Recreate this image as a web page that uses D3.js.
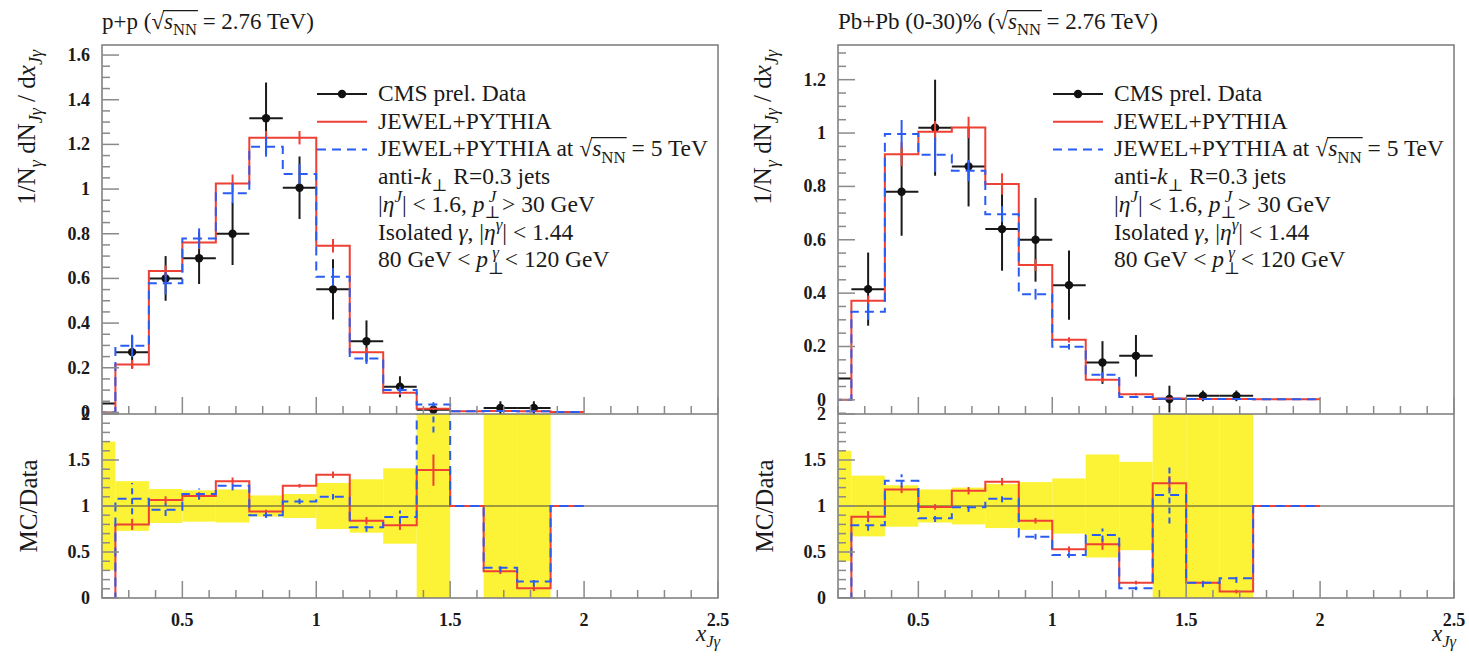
<!DOCTYPE html>
<html>
<head>
<meta charset="utf-8">
<script src="https://cdn.jsdelivr.net/npm/d3@7"></script>
<style>
body { margin: 0; background: white; }
text { font-family: "Liberation Serif", "DejaVu Serif", serif; fill: #1a1a1a; }
</style>
</head>
<body>
<div id="container"></div>
<script>

// bins of x_Jgamma (first one is only partly inside the frame)
const binEdges = [0.125, 0.25, 0.375, 0.5, 0.625, 0.75, 0.875, 1.0, 1.125, 1.25, 1.375, 1.5, 1.625, 1.75, 1.875, 2.0];

// p+p panel
const ppData      = [0.04, 0.27, 0.60, 0.69, 0.80, 1.317, 1.006, 0.551, 0.319, 0.115, 0.012, null, 0.02, 0.02, null];
const ppDataErr   = [0.028, 0.073, 0.10, 0.115, 0.14, 0.16, 0.14, 0.135, 0.093, 0.047, 0.02, null, 0.03, 0.03, null];
const ppBand      = [0.70, 0.27, 0.185, 0.17, 0.18, 0.115, 0.13, 0.25, 0.29, 0.41, 9, null, 9, 9, null];
const ppRed       = [0, 0.215, 0.633, 0.761, 1.025, 1.23, 1.23, 0.746, 0.269, 0.088, 0.016, 0.005, 0.006, 0.005, 0.002];
const ppRedErr    = [0, 0.02, 0.025, 0.03, 0.04, 0.03, 0.03, 0.03, 0.02, 0.01, 0.005, 0.002, 0.002, 0.002, 0.001];
const ppBlue      = [0, 0.298, 0.578, 0.779, 0.981, 1.19, 1.067, 0.607, 0.242, 0.10, 0.036, 0.005, 0.006, 0.005, 0.002];
const ppBlueErr   = [0, 0.05, 0.05, 0.045, 0.045, 0.045, 0.045, 0.04, 0.025, 0.015, 0.01, 0.002, 0.002, 0.002, 0.001];
const ppRedRatio  = [0, 0.80, 1.065, 1.11, 1.27, 0.94, 1.22, 1.34, 0.84, 0.79, 1.39, 1, 0.29, 0.105, 1];
const ppRedRErr   = [0, 0.06, 0.04, 0.04, 0.04, 0.02, 0.02, 0.035, 0.04, 0.05, 0.17, 0, 0.03, 0.03, 0];
const ppBlueRatio = [0, 1.08, 0.96, 1.13, 1.22, 0.90, 1.05, 1.10, 0.77, 0.88, 3.0, 1, 0.33, 0.18, 1];
const ppBlueRErr  = [0, 0.17, 0.07, 0.06, 0.05, 0.03, 0.03, 0.03, 0.05, 0.07, 1.2, 0, 0.05, 0.05, 0];

// Pb+Pb (0-30)% panel
const pbData      = [0.08, 0.415, 0.78, 1.02, 0.875, 0.64, 0.60, 0.43, 0.14, 0.165, 0.003, 0.015, 0.015, null, null];
const pbDataErr   = [0.048, 0.137, 0.165, 0.18, 0.15, 0.156, 0.157, 0.13, 0.08, 0.078, 0.05, 0.02, 0.02, null, null];
const pbBand      = [0.60, 0.33, 0.225, 0.18, 0.20, 0.24, 0.26, 0.30, 0.56, 0.48, 9, 9, 9, null, null];
const pbRed       = [0, 0.371, 0.921, 1.005, 1.021, 0.809, 0.505, 0.225, 0.075, 0.021, 0.005, 0.003, 0.003, 0.002, 0.002];
const pbRedErr    = [0, 0.02, 0.045, 0.04, 0.04, 0.04, 0.022, 0.01, 0.008, 0.004, 0.002, 0.001, 0.001, 0.001, 0.001];
const pbBlue      = [0, 0.33, 0.996, 0.919, 0.859, 0.696, 0.396, 0.199, 0.094, 0.011, 0.004, 0.003, 0.003, 0.002, 0.002];
const pbBlueErr   = [0, 0.03, 0.053, 0.065, 0.04, 0.03, 0.02, 0.01, 0.01, 0.004, 0.002, 0.001, 0.001, 0.001, 0.001];
const pbRedRatio  = [0, 0.884, 1.18, 0.99, 1.166, 1.264, 0.84, 0.53, 0.584, 0.167, 1.246, 0.167, 0.07, 1, 1];
const pbRedRErr   = [0, 0.06, 0.04, 0.03, 0.04, 0.04, 0.03, 0.03, 0.06, 0.02, 0.08, 0.02, 0.02, 0, 0];
const pbBlueRatio = [0, 0.79, 1.275, 0.866, 0.986, 1.08, 0.667, 0.467, 0.685, 0.105, 1.12, 0.167, 0.214, 1, 1];
const pbBlueRErr  = [0, 0.06, 0.07, 0.04, 0.05, 0.04, 0.03, 0.03, 0.07, 0.02, 0.31, 0.05, 0.05, 0, 0];

// tick labels
const xTicks = [0.5, 1, 1.5, 2, 2.5];
const ppYTicks = [0, 0.2, 0.4, 0.6, 0.8, 1, 1.2, 1.4, 1.6];
const pbYTicks = [0, 0.2, 0.4, 0.6, 0.8, 1, 1.2];
const ratioTicks = [0, 0.5, 1, 1.5, 2];

const RED = "#ee4035";
const BLUE = "#2b5cf2";
const YELLOW = "#fcf236";
const FRAME = "#7a7a7a";
const TICK = "#8a8a8a";

let svg = d3.select("#container").append("svg")
    .attr("width", 1469)
    .attr("height", 656)
let defs = svg.append("defs")

// text with italic / sub / sup pieces, overline drawn as a real line
function rich(g, x, y, parts, size) {
    let t = g.append("text").attr("x", x).attr("y", y).style("font-size", size + "px")
    let cur = 0, pos = 0, over = []
    parts.forEach(p => {
        if (typeof p === "string") p = {t: p}
        let off = p.sub ? size * 0.28 : p.sup ? -size * 0.4 : 0
        let ts = t.append("tspan").text(p.t).attr("dy", off - cur)
        if (p.dx) ts.attr("dx", p.dx)
        if (p.i) ts.style("font-style", "italic")
        if (p.sub || p.sup) ts.style("font-size", (size * 0.72) + "px")
        if (p.over) over.push([pos, pos + p.t.length - 1])
        pos += p.t.length
        cur = off
    })
    if (over.length) {
        let n = t.node()
        let x0 = n.getStartPositionOfChar(over[0][0]).x - 1
        let x1 = n.getEndPositionOfChar(over[over.length - 1][1]).x + 1
        g.append("line").attr("x1", x0).attr("x2", x1)
            .attr("y1", y - size * 0.8).attr("y2", y - size * 0.8)
            .attr("stroke", "#1a1a1a").attr("stroke-width", 1.1)
    }
    return t
}

function drawPanel(p) {
    let L = p.left, R = L + 616, T = 45, M = 414, B = 598
    let x = d3.scaleLinear().domain([0.2, 2.5]).range([L, R])
    let y = d3.scaleLinear().domain(p.yDomain).range([M, T])
    let yr = d3.scaleLinear().domain([0, 2]).range([B, M])

    defs.append("clipPath").attr("id", p.id + "-main")
        .append("rect").attr("x", L).attr("y", T).attr("width", R - L).attr("height", M - T)
    defs.append("clipPath").attr("id", p.id + "-ratio")
        .append("rect").attr("x", L).attr("y", M).attr("width", R - L).attr("height", B - M)

    let mid = i => (binEdges[i] + binEdges[i + 1]) / 2
    let step = (vals, sc) => {
        let pts = vals.map((v, i) => [binEdges[i], v])
        pts.push([binEdges[vals.length], vals[vals.length - 1]])
        return d3.line().x(d => x(d[0])).y(d => sc(d[1])).curve(d3.curveStepAfter)(pts)
    }
    let idx = d3.range(binEdges.length - 1)

    // ---- main plot
    let main = svg.append("g").attr("clip-path", "url(#" + p.id + "-main)")

    let dat = idx.filter(i => p.data[i] !== null)
    main.selectAll("line.xerr").data(dat).enter().append("line")
        .attr("x1", i => x(binEdges[i])).attr("x2", i => x(binEdges[i + 1]))
        .attr("y1", i => y(p.data[i])).attr("y2", i => y(p.data[i]))
        .attr("stroke", "#1a1a1a").attr("stroke-width", 2)
    main.selectAll("line.yerr").data(dat).enter().append("line")
        .attr("x1", i => x(mid(i))).attr("x2", i => x(mid(i)))
        .attr("y1", i => y(p.data[i] - p.dataErr[i])).attr("y2", i => y(p.data[i] + p.dataErr[i]))
        .attr("stroke", "#1a1a1a").attr("stroke-width", 2)
    main.selectAll("circle").data(dat).enter().append("circle")
        .attr("cx", i => x(mid(i))).attr("cy", i => y(p.data[i])).attr("r", 4.2)
        .attr("fill", "#111")

    let mcSeries = [
        {vals: p.red, err: p.redErr, rv: p.redRatio, re: p.redRErr, color: RED, dash: null},
        {vals: p.blue, err: p.blueErr, rv: p.blueRatio, re: p.blueRErr, color: BLUE, dash: "9,6"}
    ]
    mcSeries.forEach(s => {
        main.append("path").attr("d", step(s.vals, y))
            .attr("fill", "none").attr("stroke", s.color).attr("stroke-width", 2)
            .attr("stroke-dasharray", s.dash)
        main.selectAll(null).data(idx.filter(i => s.err[i] > 0)).enter().append("line")
            .attr("x1", i => x(mid(i))).attr("x2", i => x(mid(i)))
            .attr("y1", i => y(s.vals[i] - s.err[i])).attr("y2", i => y(s.vals[i] + s.err[i]))
            .attr("stroke", s.color).attr("stroke-width", 2)
    })

    // ---- ratio plot
    let rat = svg.append("g").attr("clip-path", "url(#" + p.id + "-ratio)")
    rat.selectAll("rect").data(idx.filter(i => p.band[i] !== null)).enter().append("rect")
        .attr("x", i => x(binEdges[i]))
        .attr("width", i => x(binEdges[i + 1]) - x(binEdges[i]))
        .attr("y", i => yr(1 + p.band[i]))
        .attr("height", i => yr(Math.max(0, 1 - p.band[i])) - yr(1 + p.band[i]))
        .attr("fill", YELLOW)
    rat.append("line").attr("x1", L).attr("x2", R).attr("y1", yr(1)).attr("y2", yr(1))
        .attr("stroke", "#444").attr("stroke-width", 1)
    mcSeries.forEach(s => {
        rat.append("path").attr("d", step(s.rv, yr))
            .attr("fill", "none").attr("stroke", s.color).attr("stroke-width", 2)
            .attr("stroke-dasharray", s.dash)
        rat.selectAll(null).data(idx.filter(i => s.re[i] > 0)).enter().append("line")
            .attr("x1", i => x(mid(i))).attr("x2", i => x(mid(i)))
            .attr("y1", i => yr(s.rv[i] - s.re[i])).attr("y2", i => yr(s.rv[i] + s.re[i]))
            .attr("stroke", s.color).attr("stroke-width", 2)
            .attr("stroke-dasharray", s.dash ? "6,4" : null)
    })

    // ---- frames and ticks
    let ax = svg.append("g")
    ax.append("rect").attr("x", L).attr("y", T).attr("width", R - L).attr("height", B - T)
        .attr("fill", "none").attr("stroke", FRAME).attr("stroke-width", 1.5)
    ax.append("line").attr("x1", L).attr("x2", R).attr("y1", M).attr("y2", M)
        .attr("stroke", FRAME).attr("stroke-width", 1.5)

    let xMinor = d3.range(2, 26).map(v => v / 10)
    ;[M, B].forEach(base => {
        ax.selectAll(null).data(xMinor).enter().append("line")
            .attr("x1", d => x(d)).attr("x2", d => x(d))
            .attr("y1", base).attr("y2", d => base - (Math.abs(d * 2 - Math.round(d * 2)) < 1e-6 ? 17 : 8))
            .attr("stroke", TICK).attr("stroke-width", 1.5)
    })
    ax.selectAll(null).data(xTicks).enter().append("text")
        .attr("x", d => x(d)).attr("y", 626)
        .attr("text-anchor", "middle").style("font-size", "18px").style("font-weight", "bold")
        .text(d => d)

    let yMinor = d3.range(Math.ceil(p.yDomain[0] * 20), Math.floor(p.yDomain[1] * 20) + 1).map(v => v / 20)
    ax.selectAll(null).data(yMinor).enter().append("line")
        .attr("x1", L).attr("x2", d => L + (Math.abs(d * 5 - Math.round(d * 5)) < 1e-6 ? 17 : 8))
        .attr("y1", d => y(d)).attr("y2", d => y(d))
        .attr("stroke", TICK).attr("stroke-width", 1.5)
    ax.selectAll(null).data(p.yTicks).enter().append("text")
        .attr("x", L - 12).attr("y", d => y(d) + 6)
        .attr("text-anchor", "end").style("font-size", "18px").style("font-weight", "bold")
        .text(d => d)

    let rMinor = d3.range(0, 21).map(v => v / 10)
    ax.selectAll(null).data(rMinor).enter().append("line")
        .attr("x1", L).attr("x2", d => L + (Math.abs(d * 2 - Math.round(d * 2)) < 1e-6 ? 17 : 8))
        .attr("y1", d => yr(d)).attr("y2", d => yr(d))
        .attr("stroke", TICK).attr("stroke-width", 1.5)
    ax.selectAll(null).data(ratioTicks).enter().append("text")
        .attr("x", L - 12).attr("y", d => yr(d) + 6)
        .attr("text-anchor", "end").style("font-size", "18px").style("font-weight", "bold")
        .text(d => d)

    // ---- axis titles
    rich(ax, 0, 0, [
        "1/N", {t: "γ", sub: 1, i: 1}, " dN", {t: "Jγ", sub: 1, i: 1}, " / d", {t: "x", i: 1}, {t: "Jγ", sub: 1, i: 1}
    ], 25).attr("text-anchor", "end")
        .attr("transform", "translate(" + (L - 67) + "," + (T + 5) + ") rotate(-90)")
    rich(ax, 0, 0, ["MC/Data"], 25).attr("text-anchor", "middle")
        .attr("transform", "translate(" + (L - 65) + "," + yr(1) + ") rotate(-90)")
    rich(ax, R + 2, 641, [{t: "x", i: 1}, {t: "Jγ", sub: 1, i: 1}], 23).attr("text-anchor", "end")

    // ---- title
    rich(ax, L, 29, [p.title, "(√", {t: "s", i: 1, over: 1}, {t: "NN", sub: 1, over: 1}, " = 2.76 TeV)"], 23)

    // ---- legend
    let lx = L + 215, ly = 94, dy = 27.7
    let leg = svg.append("g")
    leg.append("line").attr("x1", lx).attr("x2", lx + 50).attr("y1", ly).attr("y2", ly)
        .attr("stroke", "#1a1a1a").attr("stroke-width", 2)
    leg.append("circle").attr("cx", lx + 25).attr("cy", ly).attr("r", 4.2).attr("fill", "#111")
    leg.append("line").attr("x1", lx).attr("x2", lx + 50).attr("y1", ly + dy).attr("y2", ly + dy)
        .attr("stroke", RED).attr("stroke-width", 2)
    leg.append("line").attr("x1", lx).attr("x2", lx + 50).attr("y1", ly + 2 * dy).attr("y2", ly + 2 * dy)
        .attr("stroke", BLUE).attr("stroke-width", 2).attr("stroke-dasharray", "9,6")
    let tx = lx + 61, fs = 23.5
    let lines = [
        ["CMS prel. Data"],
        ["JEWEL+PYTHIA"],
        ["JEWEL+PYTHIA at √", {t: "s", i: 1, over: 1}, {t: "NN", sub: 1, over: 1}, " = 5 TeV"],
        ["anti-", {t: "k", i: 1}, {t: "⊥", sub: 1}, " R=0.3 jets"],
        ["|", {t: "η", i: 1}, {t: "J", sup: 1, i: 1}, "| < 1.6, ", {t: "p", i: 1}, {t: "⊥", sub: 1},
            {t: "J", sup: 1, i: 1, dx: -fs * 0.5}, "  > 30 GeV"],
        ["Isolated ", {t: "γ", i: 1}, ", |", {t: "η", i: 1}, {t: "γ", sup: 1, i: 1}, "| < 1.44"],
        ["80 GeV < ", {t: "p", i: 1}, {t: "⊥", sub: 1}, {t: "γ", sup: 1, i: 1, dx: -fs * 0.5}, "  < 120 GeV"]
    ]
    lines.forEach((parts, k) => rich(leg, tx, ly + 7 + k * dy, parts, fs))
}

drawPanel({
    id: "pp", left: 102, title: "p+p ", yDomain: [-0.007, 1.645], yTicks: ppYTicks,
    data: ppData, dataErr: ppDataErr, band: ppBand,
    red: ppRed, redErr: ppRedErr, blue: ppBlue, blueErr: ppBlueErr,
    redRatio: ppRedRatio, redRErr: ppRedRErr, blueRatio: ppBlueRatio, blueRErr: ppBlueRErr
})
drawPanel({
    id: "pb", left: 838, title: "Pb+Pb (0-30)% ", yDomain: [-0.053, 1.33], yTicks: pbYTicks,
    data: pbData, dataErr: pbDataErr, band: pbBand,
    red: pbRed, redErr: pbRedErr, blue: pbBlue, blueErr: pbBlueErr,
    redRatio: pbRedRatio, redRErr: pbRedRErr, blueRatio: pbBlueRatio, blueRErr: pbBlueRErr
})

</script>
</body>
</html>
